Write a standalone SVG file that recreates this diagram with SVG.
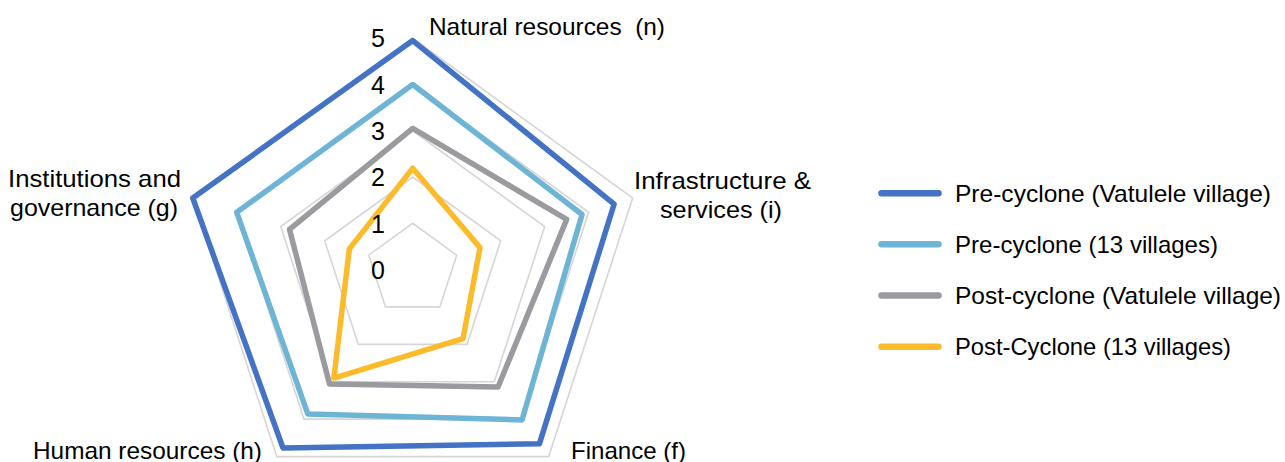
<svg xmlns="http://www.w3.org/2000/svg" width="1285" height="462" viewBox="0 0 1285 462">
<style>
text{font-family:"Liberation Sans",Arial,sans-serif;font-size:24px;fill:#000}
.grid{fill:none;stroke:#d6d6d6;stroke-width:1.6}
.s{fill:none;stroke-width:5.5;stroke-linejoin:round}
.leg{stroke-width:6.5;stroke-linecap:round}
.b{stroke:#4472C4}
.lb{stroke:#6EB4D4}
.g{stroke:#999B9E}
.y{stroke:#FBBB2B}
.num{text-anchor:middle;font-size:25px}
</style>
<rect width="1285" height="462" fill="#ffffff"/>
<g id="grid">
<polygon class="grid" points="412.7,223.25 456.69,255.21 439.89,306.92 385.51,306.92 368.71,255.21"/>
<polygon class="grid" points="412.7,177 500.67,240.92 467.07,344.33 358.33,344.33 324.73,240.92"/>
<polygon class="grid" points="412.7,130.75 544.66,226.62 494.26,381.75 331.14,381.75 280.74,226.62"/>
<polygon class="grid" points="412.7,84.5 588.65,212.33 521.44,419.17 303.96,419.17 236.75,212.33"/>
<polygon class="grid" points="412.7,38.25 632.64,198.04 548.63,456.59 276.77,456.59 192.76,198.04"/>
</g>
<g id="series">
<polygon id="pre-vatulele" class="s b" points="412.7,40.56 614.16,204.04 539.39,443.87 283.03,447.98 192.76,198.04"/>
<polygon id="pre-13" class="s lb" points="412.7,84.5 582.05,214.47 521.99,419.92 307.76,413.93 236.75,212.33"/>
<polygon id="post-vatulele" class="s g" points="412.7,128.44 566.65,219.48 498.06,386.99 329.51,384 289.54,229.48"/>
<polygon id="post-13" class="s y" points="412.7,168.21 480,247.63 462.99,338.72 333.86,378.01 349.36,248.92"/>
</g>
<g id="axis-values">
<text class="num" x="378" y="47">5</text>
<text class="num" x="378" y="93.5">4</text>
<text class="num" x="378" y="140">3</text>
<text class="num" x="378" y="186">2</text>
<text class="num" x="378" y="232.5">1</text>
<text class="num" x="378" y="279">0</text>
</g>
<g id="label-n"><text x="429" y="35" textLength="236" lengthAdjust="spacingAndGlyphs" xml:space="preserve">Natural resources  (n)</text></g>
<g id="label-i">
<text x="634" y="189" textLength="177" lengthAdjust="spacingAndGlyphs">Infrastructure &amp;</text>
<text x="660" y="218" textLength="122" lengthAdjust="spacingAndGlyphs">services (i)</text>
</g>
<g id="label-f"><text x="571" y="459" textLength="115" lengthAdjust="spacingAndGlyphs">Finance (f)</text></g>
<g id="label-h"><text x="33" y="459" textLength="229" lengthAdjust="spacingAndGlyphs">Human resources (h)</text></g>
<g id="label-g">
<text x="8" y="187" textLength="173" lengthAdjust="spacingAndGlyphs">Institutions and</text>
<text x="10" y="216" textLength="168" lengthAdjust="spacingAndGlyphs">governance (g)</text>
</g>
<g id="legend">
<g id="legend-1"><line class="leg b" x1="881.5" y1="193.3" x2="938.5" y2="193.3"/><text x="955" y="201.7" textLength="316" lengthAdjust="spacingAndGlyphs">Pre-cyclone (Vatulele village)</text></g>
<g id="legend-2"><line class="leg lb" x1="881.5" y1="244.3" x2="938.5" y2="244.3"/><text x="955" y="252.8" textLength="263" lengthAdjust="spacingAndGlyphs">Pre-cyclone (13 villages)</text></g>
<g id="legend-3"><line class="leg g" x1="881.5" y1="295.5" x2="938.5" y2="295.5"/><text x="955" y="304" textLength="326" lengthAdjust="spacingAndGlyphs">Post-cyclone (Vatulele village)</text></g>
<g id="legend-4"><line class="leg y" x1="881.5" y1="346.7" x2="938.5" y2="346.7"/><text x="955" y="355" textLength="276" lengthAdjust="spacingAndGlyphs">Post-Cyclone (13 villages)</text></g>
</g>
</svg>
